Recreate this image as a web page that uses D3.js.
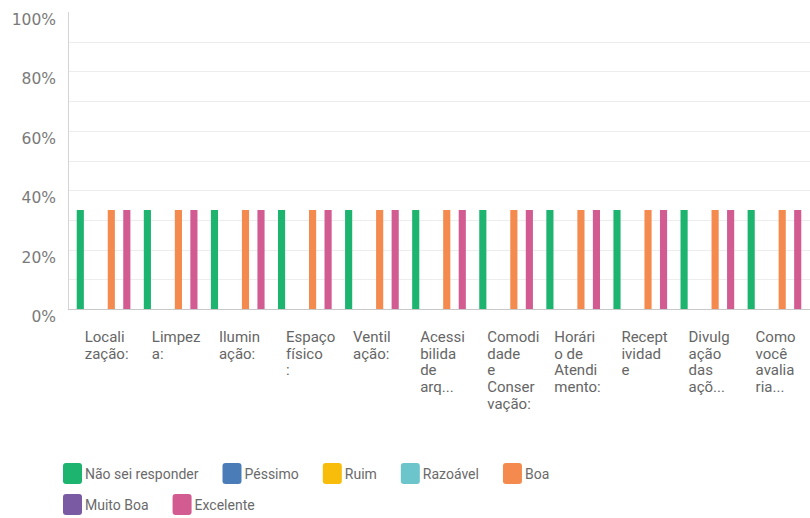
<!DOCTYPE html>
<html><head><meta charset="utf-8">
<script src="https://cdn.jsdelivr.net/npm/d3@7"></script>
<style>body{margin:0;background:#fff;} text{font-family:Roboto, "Noto Sans", sans-serif;}</style>
</head><body>
<svg id="c" width="810" height="518"></svg>
<script>
const categories = ["Localização:","Limpeza:","Iluminação:","Espaço físico:","Ventilação:","Acessibilidade de arq...","Comodidade e Conservação:","Horário de Atendimento:","Receptividade","Divulgação das açõ...","Como você avaliaria..."];
const categoryLines = [["Locali","zação:"],["Limpez","a:"],["Ilumin","ação:"],["Espaço","físico",":"],["Ventil","ação:"],["Acessi","bilida","de","arq..."],["Comodi","dade","e","Conser","vação:"],["Horári","o de","Atendi","mento:"],["Recept","ividad","e"],["Divulg","ação","das","açõ..."],["Como","você","avalia","ria..."]];
const series = ["Não sei responder","Péssimo","Ruim","Razoável","Boa","Muito Boa","Excelente"];
const colors = ["#1db46f","#4a7cb8","#f7bd0a","#6cc5cb","#f48a4d","#7a5ba3","#d25b92"];
const values = {
  "Não sei responder": [33.33,33.33,33.33,33.33,33.33,33.33,33.33,33.33,33.33,33.33,33.33],
  "Péssimo":           [0,0,0,0,0,0,0,0,0,0,0],
  "Ruim":              [0,0,0,0,0,0,0,0,0,0,0],
  "Razoável":          [0,0,0,0,0,0,0,0,0,0,0],
  "Boa":               [33.33,33.33,33.33,33.33,33.33,33.33,33.33,33.33,33.33,33.33,33.33],
  "Muito Boa":         [0,0,0,0,0,0,0,0,0,0,0],
  "Excelente":         [33.33,33.33,33.33,33.33,33.33,33.33,33.33,33.33,33.33,33.33,33.33]
};
const yTicks = [0,20,40,60,80,100];

const svg = d3.select("#c");
const L = 68, R = 810, T = 12, B = 309;
const y = d3.scaleLinear().domain([0,100]).range([B,T]);
const x0 = d3.scaleBand().domain(categories).range([L,R]).paddingInner(0.2).paddingOuter(0.13);
const x1 = d3.scaleBand().domain(series).range([0,x0.bandwidth()]).paddingInner(0.08);
const color = d3.scaleOrdinal().domain(series).range(colors);

// gridlines every 10%
svg.append("g").selectAll("line").data(d3.range(10,100,10)).join("line")
  .attr("x1",L).attr("x2",R).attr("y1",d=>Math.round(y(d))+0.5).attr("y2",d=>Math.round(y(d))+0.5)
  .attr("stroke","#ededed").attr("stroke-width",1);
// axis lines
svg.append("line").attr("x1",L+0.5).attr("x2",L+0.5).attr("y1",T).attr("y2",B).attr("stroke","#d4d4d4");
svg.append("line").attr("x1",L).attr("x2",R).attr("y1",B+0.5).attr("y2",B+0.5).attr("stroke","#c8c8c8");

// y labels
svg.append("g").selectAll("text").data(yTicks).join("text")
  .attr("x",56).attr("y",d=>y(d)+13).attr("text-anchor","end")
  .style("font-family","'DejaVu Sans', sans-serif")
  .attr("font-size",15.5).attr("fill","#7a7a7a").text(d=>d+"%");

// bars
const g = svg.append("g");
categories.forEach((c,i)=>{
  series.forEach(s=>{
    const v = values[s][i];
    if(v>0){
      g.append("rect").attr("x",x0(c)+x1(s)).attr("width",x1.bandwidth())
        .attr("y",y(v)).attr("height",y(0)-y(v)).attr("fill",color(s));
    }
  });
});

// x labels
const xl = svg.append("g").style("font-family","'DejaVu Sans', sans-serif");
categories.forEach((c,i)=>{
  const t = xl.append("text").attr("x",x0(c)+8).attr("y",342).attr("font-size",15).attr("fill","#666");
  categoryLines[i].forEach((ln,j)=>{
    t.append("tspan").attr("x",x0(c)+8).attr("dy",j===0?0:16.7).text(ln);
  });
});

// legend (flow layout)
const lg = svg.append("g");
let lx = 63, ly = 463;
const maxX = 620;
series.forEach(s=>{
  const item = lg.append("g");
  const txt = item.append("text").attr("font-size",14).attr("fill","#6a6a6a").text(s);
  const w = txt.node().getComputedTextLength();
  const iw = 22 + w;
  if(lx + iw > maxX){ lx = 63; ly += 31; }
  item.append("rect").attr("x",lx).attr("y",ly).attr("width",19).attr("height",21).attr("rx",3).attr("fill",color(s));
  txt.attr("x",lx+22).attr("y",ly+15.5);
  lx += iw + 24;
});
</script>
</body></html>
